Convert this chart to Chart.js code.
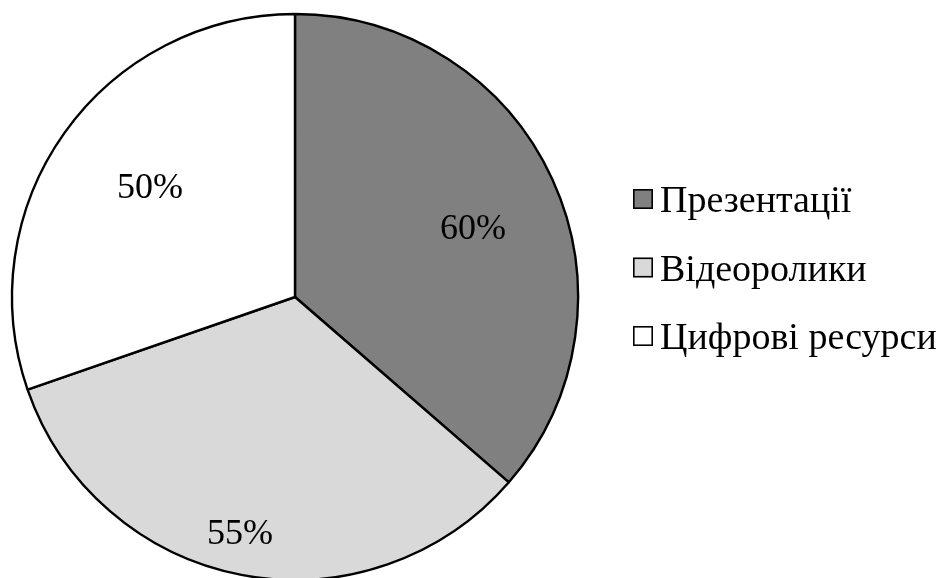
<!DOCTYPE html>
<html lang="uk">
<head>
  <meta charset="UTF-8">
  <title>Використання ресурсів</title>
  <style>
    html, body { margin: 0; padding: 0; background: #ffffff; }
    #wrap { width: 937px; height: 578px; position: relative; }
  </style>
  <script src="https://cdn.jsdelivr.net/npm/chart.js"></script>
</head>
<body>
<div id="wrap">
  <canvas id="pie" width="937" height="578"></canvas>
</div>

<script>
  // categories and their shares
  const categories = ['Презентації', 'Відеоролики', 'Цифрові ресурси'];
  const shares = [60, 55, 50];
  const sliceColors = ['#808080', '#d9d9d9', '#ffffff'];
  // label placement: fraction of radius, and a small turn (degrees) off the slice middle
  const labelRadius = [0.677, 0.85, 0.645];
  const labelTurn = [2.8, 2.3, 2.0];

  const FONT = '"Liberation Serif", "Times New Roman", serif';

  // percent labels inside the slices
  const sliceLabels = {
    id: 'sliceLabels',
    afterDatasetsDraw(chart) {
      const ctx = chart.ctx;
      const meta = chart.getDatasetMeta(0);
      ctx.save();
      ctx.font = '36px ' + FONT;
      ctx.fillStyle = '#000';
      ctx.textAlign = 'center';
      ctx.textBaseline = 'alphabetic';
      meta.data.forEach((arc, i) => {
        const p = arc.getProps(['x', 'y', 'startAngle', 'endAngle', 'outerRadius'], true);
        const mid = (p.startAngle + p.endAngle) / 2 + labelTurn[i] * Math.PI / 180;
        const r = p.outerRadius * labelRadius[i];
        const x = p.x + Math.cos(mid) * r;
        const y = p.y + Math.sin(mid) * r;
        ctx.fillText(chart.data.datasets[0].data[i] + '%', x, y + 12.5);
      });
      ctx.restore();
    }
  };

  // legend on the right, square markers
  const sideLegend = {
    id: 'sideLegend',
    afterDraw(chart) {
      const ctx = chart.ctx;
      const ds = chart.data.datasets[0];
      const left = 633, box = 20, top = 212, step = 68.5;
      ctx.save();
      ctx.font = '38px ' + FONT;
      ctx.textBaseline = 'alphabetic';
      ctx.textAlign = 'left';
      chart.data.labels.forEach((lab, i) => {
        const base = top + i * step;
        const by = base - 23;
        ctx.fillStyle = ds.backgroundColor[i];
        ctx.fillRect(left, by, box, box);
        ctx.lineWidth = 1.6;
        ctx.strokeStyle = '#000';
        ctx.strokeRect(left + 0.8, by + 0.8, box - 1.6, box - 1.6);
        ctx.fillStyle = '#000';
        ctx.fillText(lab, left + 27, base);
      });
      ctx.restore();
    }
  };

  new Chart(document.getElementById('pie'), {
    type: 'pie',
    data: {
      labels: categories,
      datasets: [{
        data: shares,
        backgroundColor: sliceColors,
        borderColor: '#000000',
        borderWidth: 2.4,
        borderAlign: 'center'
      }]
    },
    options: {
      responsive: false,
      animation: false,
      radius: 283,
      layout: { padding: { left: 11, top: 16, right: 358, bottom: 0 } },
      plugins: {
        legend: { display: false },
        tooltip: { enabled: false }
      }
    },
    plugins: [sliceLabels, sideLegend]
  });
</script>
</body>
</html>
